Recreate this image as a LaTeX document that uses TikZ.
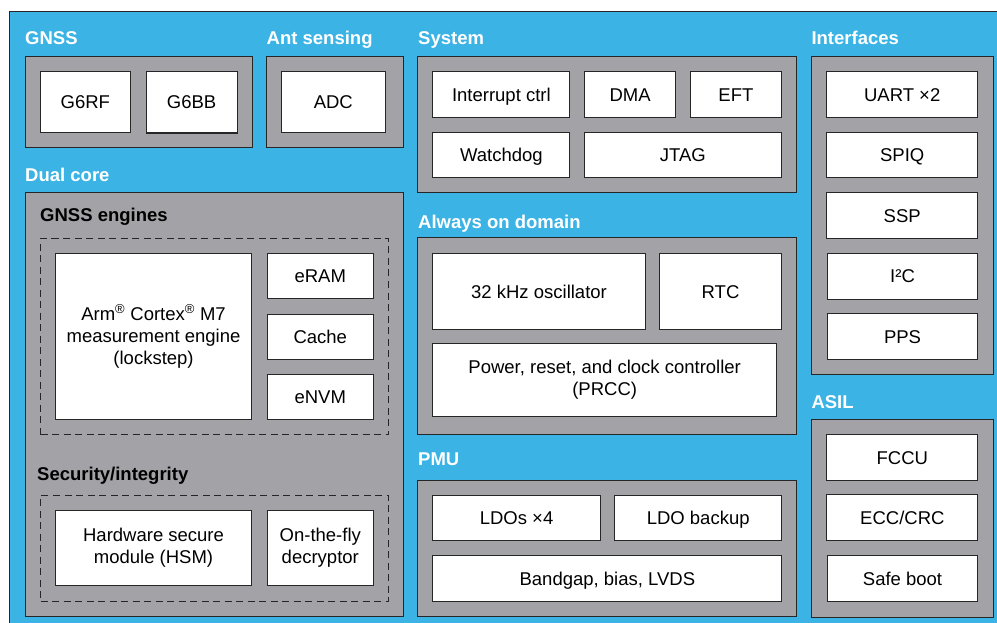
\documentclass[tikz,border=0pt]{standalone}
\usepackage{fontspec}
\setmainfont{Liberation Sans}
\definecolor{bgblue}{HTML}{3BB3E4}
\definecolor{panelgray}{HTML}{A2A2A7}
\definecolor{edge}{HTML}{262626}
\newcommand{\blk}[6]{\node[#1,minimum width={(#4-#2)*1pt},minimum height={(#5-#3)*1pt}] (#6) at (#2,#3)}
\begin{document}
\begin{tikzpicture}[x=1pt,y=-1pt,
  every node/.style={font=\fontsize{18.5}{22}\selectfont},
  wbox/.style={draw=edge, line width=1.1pt, fill=white, anchor=north west, inner sep=0pt, align=center, text=black},
  wbox1/.style={wbox, text height=13.3pt, text depth=0pt},
  panel/.style={draw=edge, line width=1.1pt, fill=panelgray, anchor=north west, inner sep=0pt},
  bgbox/.style={draw=edge, line width=1.2pt, fill=bgblue, anchor=north west, inner sep=0pt},
  dbox/.style={draw=edge, line width=1pt, dash pattern=on 7pt off 4.5pt, anchor=north west, inner sep=0pt},
  ttl/.style={anchor=base west, inner sep=0pt, font=\fontsize{18.5}{22}\selectfont\bfseries, text=white},
  subttl/.style={ttl, text=black}]
\useasboundingbox (0,0) rectangle (997,623);
\clip (0,0) rectangle (997,623);
\blk{bgbox}{9}{11}{1010}{640}{bg}{};
% GNSS
\node[ttl] (tgnss) at (25,44.5) {GNSS};
\blk{panel}{24.5}{56}{251.5}{147}{pgnss}{};
\blk{wbox1}{39.5}{71}{130}{132}{g6rf}{G6RF};
\blk{wbox1}{145.5}{71}{236.5}{132.5}{g6bb}{G6BB};
% Ant sensing
\node[ttl] (tant) at (266.5,44.5) {Ant sensing};
\blk{panel}{266}{56}{403}{147}{pant}{};
\blk{wbox1}{281}{71}{384.5}{132}{adc}{ADC};
% Dual core
\node[ttl] (tdual) at (25,181.5) {Dual core};
\blk{panel}{24.5}{192}{403}{615.5}{pdual}{};
\node[subttl] (teng) at (40,221.7) {GNSS engines};
\blk{dbox}{40}{238}{388}{434}{deng}{};
\blk{wbox}{55}{252.7}{251}{419}{arm}{Arm\textsuperscript{®} Cortex\textsuperscript{®} M7\\measurement engine\\(lockstep)};
\blk{wbox1}{266.5}{253}{373}{298}{eram}{eRAM};
\blk{wbox1}{266.5}{313.5}{373}{358.5}{cache}{Cache};
\blk{wbox1}{266.5}{374}{373}{419}{envm}{eNVM};
\node[subttl] (tsec) at (37,480) {Security/integrity};
\blk{dbox}{40}{495}{388}{600.5}{dsec}{};
\blk{wbox}{55}{510}{251}{585}{hsm}{Hardware secure\\module (HSM)};
\blk{wbox}{266.5}{510}{373}{585}{otf}{On-the-fly\\decryptor};
% System
\node[ttl] (tsys) at (418,44.5) {System};
\blk{panel}{417.3}{56}{796}{192}{psys}{};
\blk{wbox1}{432.3}{71}{569.3}{117}{irq}{Interrupt ctrl};
\blk{wbox1}{583.7}{71}{675.3}{117}{dma}{DMA};
\blk{wbox1}{689.7}{71}{781}{117}{eft}{EFT};
\blk{wbox1}{432.3}{131.7}{569.3}{177}{wdog}{Watchdog};
\blk{wbox1}{583.7}{131.7}{781}{177}{jtag}{JTAG};
% Always on
\node[ttl] (taon) at (418,228.3) {Always on domain};
\blk{panel}{417.3}{237.3}{796}{434}{paon}{};
\blk{wbox1}{432.3}{253.3}{644.7}{328.7}{osc}{32 kHz oscillator};
\blk{wbox1}{659.3}{253.3}{780.7}{328.7}{rtc}{RTC};
\blk{wbox}{432.3}{343.3}{776}{416}{prcc}{\fontsize{18.5}{20}\selectfont Power, reset, and clock controller\\(PRCC)};
% PMU
\node[ttl] (tpmu) at (418,465.7) {PMU};
\blk{panel}{417.3}{480}{796}{615.5}{ppmu}{};
\blk{wbox1}{432.3}{494.7}{599.7}{540}{ldo}{LDOs ×4};
\blk{wbox1}{614}{494.7}{781.3}{540}{ldob}{LDO backup};
\blk{wbox1}{432.3}{555.3}{781.3}{600.7}{bg2}{Bandgap, bias, LVDS};
% Interfaces
\node[ttl] (tif) at (811.3,44.5) {Interfaces};
\blk{panel}{810.7}{56}{992.7}{373.7}{pif}{};
\blk{wbox1}{826}{71}{977.3}{117}{uart}{UART ×2};
\blk{wbox1}{826}{131.7}{977.3}{177}{spiq}{SPIQ};
\blk{wbox1}{826}{192}{977.3}{238}{ssp}{SSP};
\blk{wbox1}{826.7}{252.7}{977.3}{298.7}{i2c}{I²C};
\blk{wbox1}{826.7}{313}{977.3}{359}{pps}{PPS};
% ASIL
\node[ttl] (tasil) at (811.3,408.3) {ASIL};
\blk{panel}{810.7}{419}{992.7}{616.7}{pasil}{};
\blk{wbox1}{826.3}{434}{977.3}{480}{fccu}{FCCU};
\blk{wbox1}{826.3}{494.3}{977.3}{540.3}{ecc}{ECC/CRC};
\blk{wbox1}{826.7}{555}{977.3}{601}{safe}{Safe boot};
\end{tikzpicture}
\end{document}
